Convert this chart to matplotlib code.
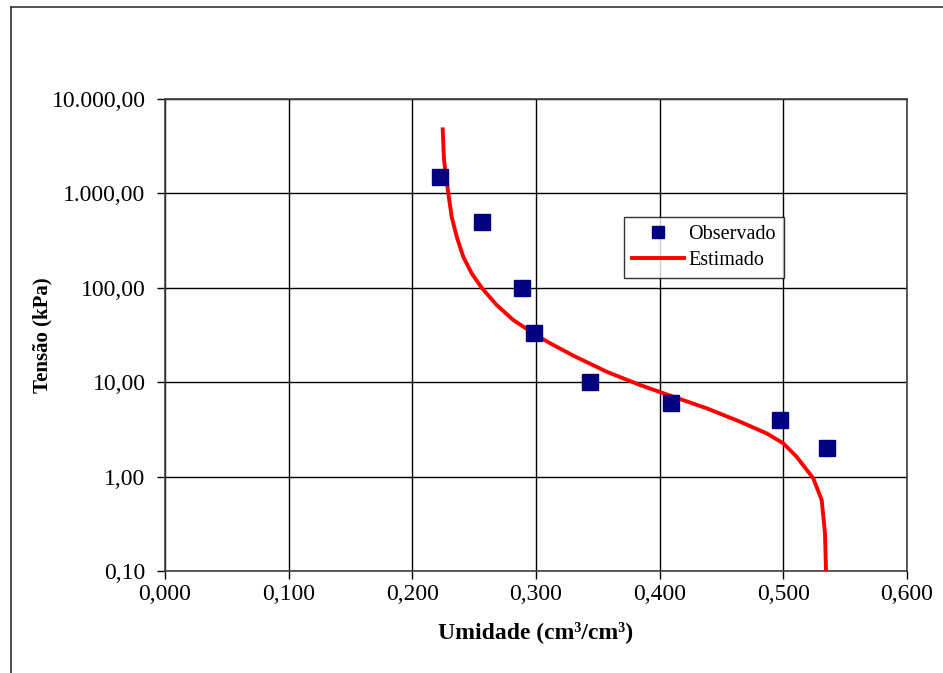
import numpy as np
import matplotlib
matplotlib.use('Agg')
import matplotlib.pyplot as plt
from matplotlib.lines import Line2D

# ── Dados observados ──────────────────────────────────────────────────────────
umidade_obs = [0.222, 0.256, 0.289, 0.298, 0.344, 0.409, 0.497, 0.535]
tensao_obs  = [1500, 500, 100, 33, 10, 6, 4, 2]

# ── Curva estimada ────────────────────────────────────────────────────────────
umidade_est = [0.2245, 0.2256, 0.2291, 0.2318, 0.2359, 0.2412, 0.2480, 0.2561,
               0.2682, 0.2816, 0.2978, 0.3032, 0.3113, 0.3302, 0.3572, 0.3841,
               0.4110, 0.4380, 0.4649, 0.4865, 0.5000, 0.5108, 0.5242, 0.5310,
               0.5337, 0.5345]
tensao_est  = [5000, 2260, 1000, 566, 347, 213, 142, 100,
               65.7, 45.6, 33.0, 29.9, 25.9, 19.1, 12.9, 9.34,
               7.02, 5.29, 3.82, 2.87, 2.25, 1.62, 0.96, 0.565,
               0.25, 0.10]

# ── Eixos ─────────────────────────────────────────────────────────────────────
x_ticks  = [0.0, 0.1, 0.2, 0.3, 0.4, 0.5, 0.6]
x_labels = ['0,000', '0,100', '0,200', '0,300', '0,400', '0,500', '0,600']
y_ticks  = [0.1, 1, 10, 100, 1000, 10000]
y_labels = ['0,10', '1,00', '10,00', '100,00', '1.000,00', '10.000,00']

plt.rcParams['font.family'] = ['Liberation Serif', 'DejaVu Serif']

fig = plt.figure(figsize=(9.43, 6.73), dpi=100)
ax = fig.add_axes([165/943, 102/673, 742/943, 472/673])

ax.set_yscale('log')
ax.set_xlim(0, 0.6)
ax.set_ylim(0.1, 10000)

ax.grid(True, which='major', color='black', lw=1.0)
ax.set_axisbelow(True)
ax.minorticks_off()

ax.plot(umidade_est, tensao_est, color='#ff0000', lw=2.8,
        solid_capstyle='butt', solid_joinstyle='round', zorder=3)
ax.plot(umidade_obs, tensao_obs, ls='none', marker='s', ms=11,
        color='#000080', mec='#000080', zorder=4)

ax.set_xticks(x_ticks)
ax.set_xticklabels(x_labels)
ax.set_yticks(y_ticks)
ax.set_yticklabels(y_labels)
ax.tick_params(axis='both', direction='out', length=6, width=1,
               labelsize=17, colors='black')
ax.tick_params(axis='y', pad=8)
ax.tick_params(axis='x', pad=3)

for s in ax.spines.values():
    s.set_color('#404040')
    s.set_linewidth(1.2)

ax.set_xlabel('Umidade (cm³/cm³)', fontsize=17, fontweight='bold', labelpad=12)
ax.set_ylabel('Tensão (kPa)', fontsize=15, fontweight='bold')
ax.yaxis.set_label_coords((52 - 165) / 742, 0.5)

handles = [
    Line2D([], [], ls='none', marker='s', ms=9, color='#000080'),
    Line2D([], [], color='#ff0000', lw=2.8),
]
leg = ax.legend(handles, ['Observado', 'Estimado'], loc='upper left',
                bbox_to_anchor=((624-165)/742, (571-217)/472),
                fontsize=14.5, frameon=True, fancybox=False, shadow=False,
                borderpad=0.4, handlelength=2.6, handletextpad=0.2,
                labelspacing=0.35, borderaxespad=0)
leg.get_frame().set_edgecolor('black')
leg.get_frame().set_linewidth(1.0)

# moldura externa (lados esquerdo e superior)
fig.add_artist(Line2D([11/943, 11/943], [0, 1 - 7/673], color='#333333', lw=1.2,
                      transform=fig.transFigure))
fig.add_artist(Line2D([11/943, 1], [1 - 7/673, 1 - 7/673], color='#333333', lw=1.2,
                      transform=fig.transFigure))

fig.savefig('out.png', dpi=100, facecolor='white')
